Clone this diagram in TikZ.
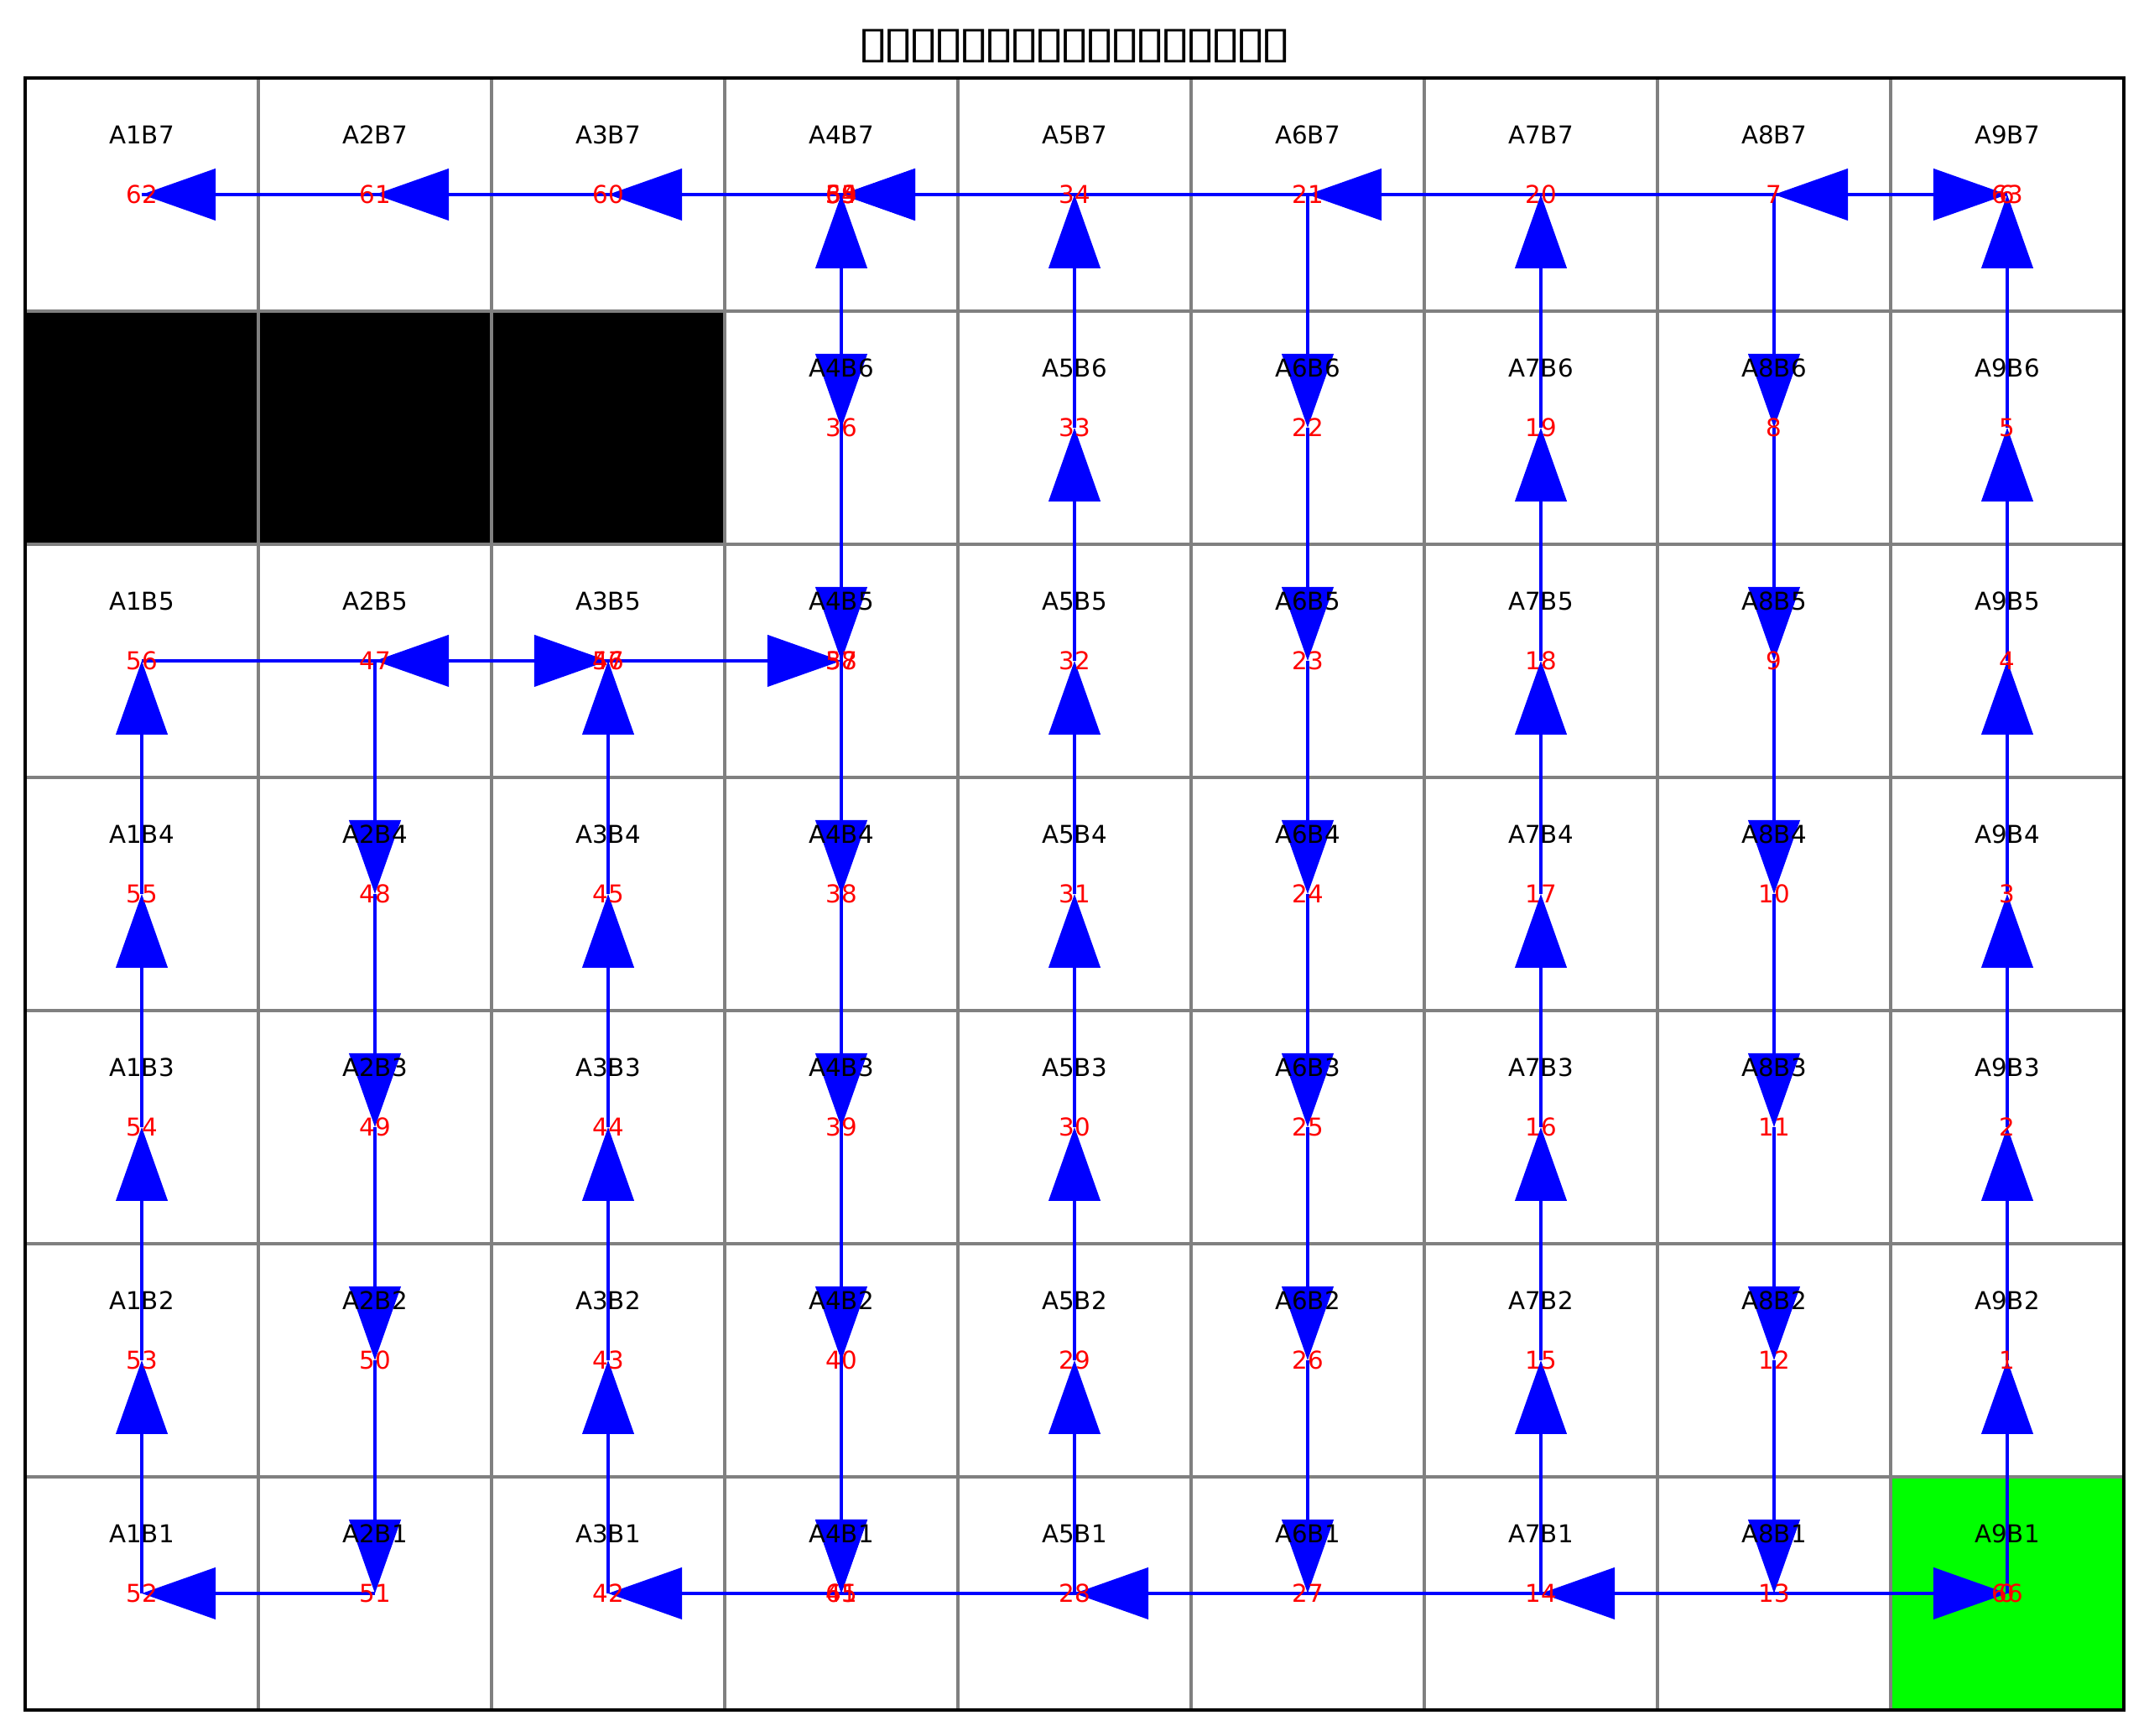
\documentclass[tikz,border=0pt]{standalone}
\usepackage{fontspec}
\setmainfont{DejaVu Sans}
\usetikzlibrary{arrows.meta}

% one missing-glyph box of the title, fixed pitch
\newcommand{\tofu}{\makebox[9.21pt]{\scalebox{1.3}[1]{▯}}}
% visiting order of the cells
\newcommand{\route}{A9B1,A9B2,A9B3,A9B4,A9B5,A9B6,A9B7,%
A8B7,A8B6,A8B5,A8B4,A8B3,A8B2,A8B1,%
A7B1,A7B2,A7B3,A7B4,A7B5,A7B6,A7B7,%
A6B7,A6B6,A6B5,A6B4,A6B3,A6B2,A6B1,%
A5B1,A5B2,A5B3,A5B4,A5B5,A5B6,A5B7,%
A4B7,A4B6,A4B5,A4B4,A4B3,A4B2,A4B1,%
A3B1,A3B2,A3B3,A3B4,A3B5,%
A2B5,A2B4,A2B3,A2B2,A2B1,%
A1B1,A1B2,A1B3,A1B4,A1B5,%
A3B5,A4B5,A4B7,A3B7,A2B7,A1B7,A9B7,A4B7,A4B1,A9B1}

\begin{document}
\begin{tikzpicture}[
        x=3cm, y=3cm,
        cell/.style={draw=gray, line width=1pt},
        lab/.style={font=\fontsize{9}{10}\selectfont, inner sep=0pt},
        num/.style={font=\fontsize{9}{10}\selectfont, text=red, inner sep=0pt},
        arrow/.style={draw=blue, line width=1.2pt, -{Triangle[length=0.95cm, width=0.66cm]}},
    ]
        \useasboundingbox (-0.108,-0.111) rectangle (9.108,7.3345);

        % Title
        \node[font=\fontsize{16}{18}\selectfont, inner sep=0pt] (title) at (4.5,7.137)
            {\tofu\tofu\tofu\tofu\tofu\tofu\tofu\tofu\tofu\tofu\tofu\tofu\tofu\tofu\tofu\tofu\tofu};

        % Obstacles and goal
        \fill[black] (0,5) rectangle (3,6);
        \fill[green] (8,0) rectangle (9,1);

        % Grid
        \foreach \i in {1,...,9}
            \foreach \j in {1,...,7} {
                \draw[cell] (\i-1,\j-1) rectangle (\i,\j);
                \coordinate (A\i B\j) at (\i-0.5,\j-0.5);
            }
        \draw[line width=1pt] (0,0) rectangle (9,7);

        % Path
        \foreach \c [remember=\c as \p (initially A9B1), count=\n from 0] in \route {
            \ifnum\n>0 \draw[arrow] (\p) -- (\c); \fi
        }

        % Cell names
        \foreach \i in {1,...,9}
            \foreach \j in {1,...,7}
                \node[lab] (t\i\j) at (\i-0.5,\j-0.245) {A\i B\j};

        % Step numbers
        \foreach \c [count=\n from 0] in \route
            \node[num] (n\n) at (\c) {\n};

    \end{tikzpicture}
\end{document}
